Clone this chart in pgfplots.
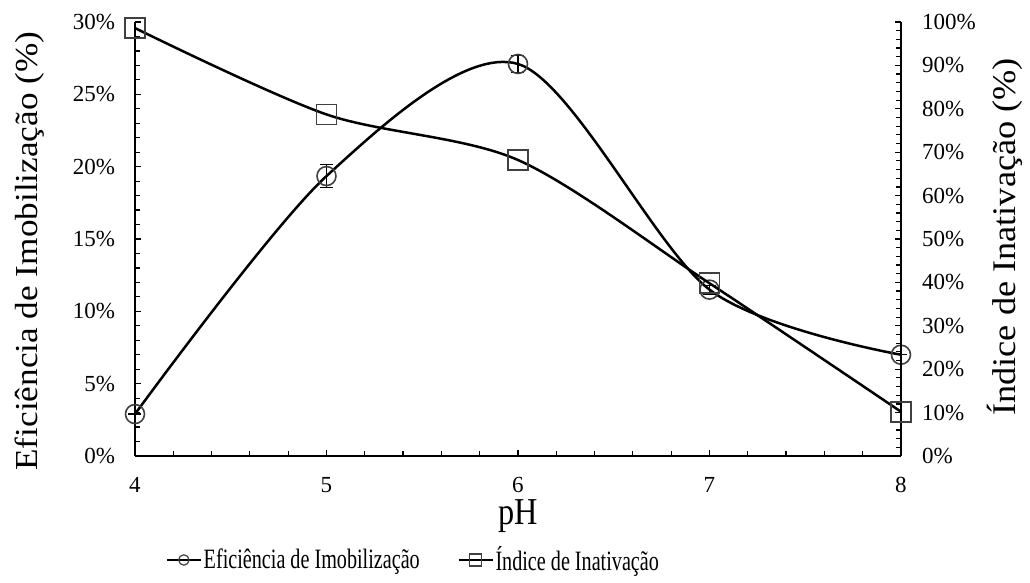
\documentclass[border=0pt]{standalone}
\usepackage{fontspec}
\setmainfont{Liberation Serif}
\newfontfamily\narrowfont{Liberation Serif}[FakeStretch=0.72]
\newfontfamily\phfont{Liberation Serif}[FakeStretch=0.85]
\newfontfamily\widefont{Liberation Serif}[FakeStretch=1.1]
\usepackage{pgfplots}
\pgfplotsset{compat=1.18}
\usetikzlibrary{calc}

\pgfplotstableread{
x   y     e
4   2.9   0
5   19.35 0.8
6   27.1  0.6
7   11.5  0.3
8   7.0   0
}\eficiencia

\pgfplotstableread{
x   y
4   98.6
5   78.7
6   68.2
7   39.8
8   10.2
}\indice

\pgfplotsset{
  common/.style={
    at={(0,0)}, anchor=south west, scale only axis,
    width=383pt, height=217pt,
    xmin=4, xmax=8, clip=false,
    axis line style={line width=1pt, -},
    tick align=inside,
    major tick length=3pt, minor tick length=2.5pt,
    tick style={black, line width=0.6pt},
    ticklabel style={font=\fontsize{11.5}{13}\selectfont},
  },
}

\begin{document}
\begin{tikzpicture}
\useasboundingbox (-67.5pt,-63.5pt) rectangle (447.5pt,228pt);
\begin{axis}[common,
  ymin=0, ymax=30,
  axis x line*=bottom, axis y line*=left,
  xtick={4,5,6,7,8}, ytick={0,5,...,30},
  minor x tick num=4, minor y tick num=4,
  yticklabel={\pgfmathprintnumber[assume math mode=true]{\tick}\%},
  xticklabel={\pgfmathprintnumber[assume math mode=true]{\tick}},
  yticklabel style={xshift=-6.5pt},
  xticklabel style={inner sep=1pt, yshift=-9.5pt},
  xlabel={pH},
  ylabel={Eficiência de Imobilização (\%)},
  xlabel style={at={(rel axis cs:0.5,0)}, anchor=center, yshift=-30pt,
    inner sep=0pt, font=\phfont\fontsize{19}{21}\selectfont},
  ylabel style={at={($(rel axis cs:0,0.472)+(-52.5pt,0)$)}, anchor=center,
    font=\widefont\fontsize{16}{18}\selectfont},
]
\addplot[black, line width=1.25pt, smooth, mark=o, mark size=4.75pt,
  mark options={line width=0.8pt, black!75, fill=none},
  error bars/.cd, y dir=both, y explicit,
  error bar style={line width=0.6pt, black},
  error mark options={rotate=90, mark size=3.25pt, line width=0.6pt, black}]
  table[x=x, y=y, y error=e] {\eficiencia};
\end{axis}

\begin{axis}[common,
  ymin=0, ymax=100,
  axis x line=none, axis y line*=right,
  ytick={0,10,...,100}, minor y tick num=4,
  yticklabel={\pgfmathprintnumber[assume math mode=true]{\tick}\%},
  yticklabel style={xshift=7pt},
  ylabel={Índice de Inativação (\%)},
  ylabel style={at={($(rel axis cs:1,0.505)+(52pt,0)$)}, anchor=center,
    font=\widefont\fontsize{16.5}{18}\selectfont},
  legend style={at={(0.363,-0.2396)}, anchor=center, draw=none,
    legend columns=2, font=\narrowfont\fontsize{14}{16}\selectfont,
    /tikz/every even column/.append style={column sep=18pt},
    nodes={inner sep=0.8pt}},
]
\addplot[black, line width=1.25pt, smooth, mark=square, mark size=5pt,
  mark options={line width=0.8pt, black!75, fill=none}, forget plot]
  table[x=x, y=y] {\indice};
\addlegendimage{black, line width=1.2pt, mark=o, mark size=2.6pt,
  mark options={line width=0.6pt, black!75}}
\addlegendentry{Eficiência de Imobilização}
\addlegendimage{black, line width=1.2pt, mark=square, mark size=3pt,
  mark options={line width=0.6pt, black!75}}
\addlegendentry{Índice de Inativação}
\end{axis}
\end{tikzpicture}
\end{document}
